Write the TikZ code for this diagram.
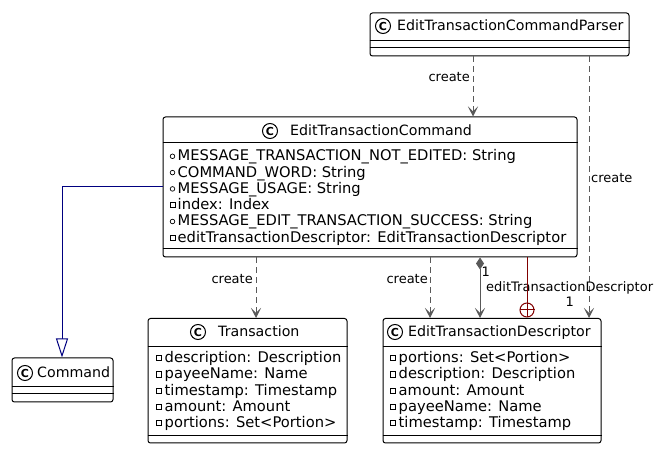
\documentclass[tikz,border=0pt]{standalone}
\usepackage{fontspec}
\setmainfont{DejaVu Sans}
\usetikzlibrary{arrows.meta}
\definecolor{arrowgray}{HTML}{595959}
\definecolor{navyblue}{HTML}{000080}
\definecolor{darkred}{HTML}{800000}
\newcommand\attrfont{\fontsize{14.7}{16}\selectfont}
\newcommand\namefont{\fontsize{14.2}{16}\selectfont}
\newcommand\labfont{\fontsize{13}{15}\selectfont}
\tikzset{
  classbox/.style={draw=black, line width=1pt, fill=white, rounded corners=2.5pt, inner sep=0pt},
  cicon/.style={circle, draw=black, line width=1pt, minimum size=15pt, inner sep=0pt, font=\fontsize{11}{11}\selectfont\bfseries},
  cname/.style={anchor=base west, inner sep=0pt, font=\namefont},
  attr/.style={anchor=base west, inner sep=0pt, font=\attrfont},
  lab/.style={inner sep=0pt, font=\labfont},
  dep/.style={draw=arrowgray, line width=1pt, dash pattern=on 6pt off 4pt, -{Stealth[length=10pt,width=10pt,inset=5pt]}},
  compo/.style={draw=arrowgray, line width=1pt, {Diamond[length=12pt,width=8pt]}-{Stealth[length=10pt,width=10pt,inset=5pt]}},
  gener/.style={draw=navyblue, line width=1pt, -{Triangle[open,length=19pt,width=12pt,fill=white]}},
  pubicon/.style={draw=black, line width=0.7pt},
}
% icon: #1 type (p = public circle, otherwise private square), #2 x, #3 y
\newcommand\visicon[3]{%
  \ifx#1p\draw[pubicon] (#2,#3) circle (2.3pt);\else
  \draw[pubicon] (#2-2.6,#3-2.6) rectangle (#2+2.6,#3+2.6);\fi}
\begin{document}
\begin{tikzpicture}[x=1pt,y=-1pt]
\useasboundingbox (0,0) rectangle (657,449);

% ---------- EditTransactionCommandParser ----------
\node[classbox, minimum width=259pt, minimum height=43pt] (parser) at (499.5,34.5) {};
\draw[line width=1pt] (parser.west |- 0,41) -- (parser.east |- 0,41);
\draw[line width=1pt] (parser.west |- 0,48) -- (parser.east |- 0,48);
\node[cicon] (parserC) at (383,26) {C};
\node[cname] (parserN) at (397,31) {EditTransactionCommandParser};

% ---------- EditTransactionCommand ----------
\node[classbox, minimum width=414pt, minimum height=140pt] (etc) at (370,187) {};
\draw[line width=1pt] (etc.west |- 0,143) -- (etc.east |- 0,143);
\draw[line width=1pt] (etc.west |- 0,249) -- (etc.east |- 0,249);
\node[cicon] (etcC) at (270,131) {C};
\node[cname] (etcN) at (290,136) {EditTransactionCommand};
\visicon{p}{172.5}{156.3}
\node[attr] (etc1) at (177.5,160.8) {MESSAGE\_TRANSACTION\_NOT\_EDITED: String};
\visicon{p}{172.5}{172.6}
\node[attr] (etc2) at (177.5,177.1) {COMMAND\_WORD: String};
\visicon{p}{172.5}{188.9}
\node[attr] (etc3) at (177.5,193.4) {MESSAGE\_USAGE: String};
\visicon{q}{172.5}{205.2}
\node[attr] (etc4) at (177.5,209.7) {index: Index};
\visicon{p}{172.5}{221.5}
\node[attr] (etc5) at (177.5,226.0) {MESSAGE\_EDIT\_TRANSACTION\_SUCCESS: String};
\visicon{q}{172.5}{237.8}
\node[attr] (etc6) at (177.5,242.3) {editTransactionDescriptor: EditTransactionDescriptor};

% ---------- Command ----------
\node[classbox, minimum width=101pt, minimum height=44pt] (cmd) at (62.5,380) {};
\draw[line width=1pt] (cmd.west |- 0,387) -- (cmd.east |- 0,387);
\draw[line width=1pt] (cmd.west |- 0,394) -- (cmd.east |- 0,394);
\node[cicon] (cmdC) at (25,373) {C};
\node[cname] (cmdN) at (37,378) {Command};

% ---------- Transaction ----------
\node[classbox, minimum width=199pt, minimum height=124.5pt] (tx) at (247.5,380.75) {};
\draw[line width=1pt] (tx.west |- 0,347) -- (tx.east |- 0,347);
\draw[line width=1pt] (tx.west |- 0,436) -- (tx.east |- 0,436);
\node[cicon] (txC) at (198,332) {C};
\node[cname] (txN) at (218,337) {Transaction};
\visicon{q}{158.5}{358}
\node[attr] (tx1) at (164.5,362.5) {description: Description};
\visicon{q}{158.5}{374.3}
\node[attr] (tx2) at (164.5,378.8) {payeeName: Name};
\visicon{q}{158.5}{390.6}
\node[attr] (tx3) at (164.5,395.1) {timestamp: Timestamp};
\visicon{q}{158.5}{406.9}
\node[attr] (tx4) at (164.5,411.4) {amount: Amount};
\visicon{q}{158.5}{423.2}
\node[attr] (tx5) at (164.5,427.7) {portions: Set<Portion>};

% ---------- EditTransactionDescriptor ----------
\node[classbox, minimum width=218pt, minimum height=124.5pt] (etd) at (492,380.75) {};
\draw[line width=1pt] (etd.west |- 0,347) -- (etd.east |- 0,347);
\draw[line width=1pt] (etd.west |- 0,436) -- (etd.east |- 0,436);
\node[cicon] (etdC) at (395,332) {C};
\node[cname] (etdN) at (408,337) {EditTransactionDescriptor};
\visicon{q}{392.5}{358}
\node[attr] (etd1) at (398.5,362.5) {portions: Set<Portion>};
\visicon{q}{392.5}{374.3}
\node[attr] (etd2) at (398.5,378.8) {description: Description};
\visicon{q}{392.5}{390.6}
\node[attr] (etd3) at (398.5,395.1) {amount: Amount};
\visicon{q}{392.5}{406.9}
\node[attr] (etd4) at (398.5,411.4) {payeeName: Name};
\visicon{q}{392.5}{423.2}
\node[attr] (etd5) at (398.5,427.7) {timestamp: Timestamp};

% ---------- Connectors ----------
% parser -> etc (create)
\draw[dep] (parser.south -| 473,0) -- (etc.north -| 473,0);
\node[lab, anchor=base east] (l1) at (470,82) {create};
% parser -> etd (create)
\draw[dep] (parser.south -| 589,0) -- (etd.north -| 589,0);
\node[lab, anchor=base west] (l2) at (591,183) {create};
% etc -> transaction (create)
\draw[dep] (etc.south -| 256,0) -- (tx.north -| 256,0);
\node[lab, anchor=base east] (l3) at (253,284) {create};
% etc -> etd (create)
\draw[dep] (etc.south -| 430,0) -- (etd.north -| 430,0);
\node[lab, anchor=base east] (l4) at (428,284) {create};
% composition
\draw[compo] (etc.south -| 480,0) -- (etd.north -| 480,0);
\node[lab, anchor=base west] (l5) at (481.5,277) {1};
\node[lab, anchor=base west] (l6) at (486,291.5) {editTransactionDescriptor};
\node[lab, anchor=base west] (l7) at (565.5,307) {1};
% inner class
\node[circle, draw=darkred, line width=1pt, minimum size=14pt, inner sep=0pt] (inner) at (527,310) {};
\draw[darkred, line width=1pt] (etc.south -| inner.north) -- (inner.north);
\draw[darkred, line width=1pt] (inner.north) -- (inner.south);
\draw[darkred, line width=1pt] (inner.west) -- (inner.east);
% generalization
\coordinate (gbend) at (62,187);
\draw[gener] (etc.west |- gbend) -- (gbend) -- (cmd.north -| gbend);
\end{tikzpicture}
\end{document}
